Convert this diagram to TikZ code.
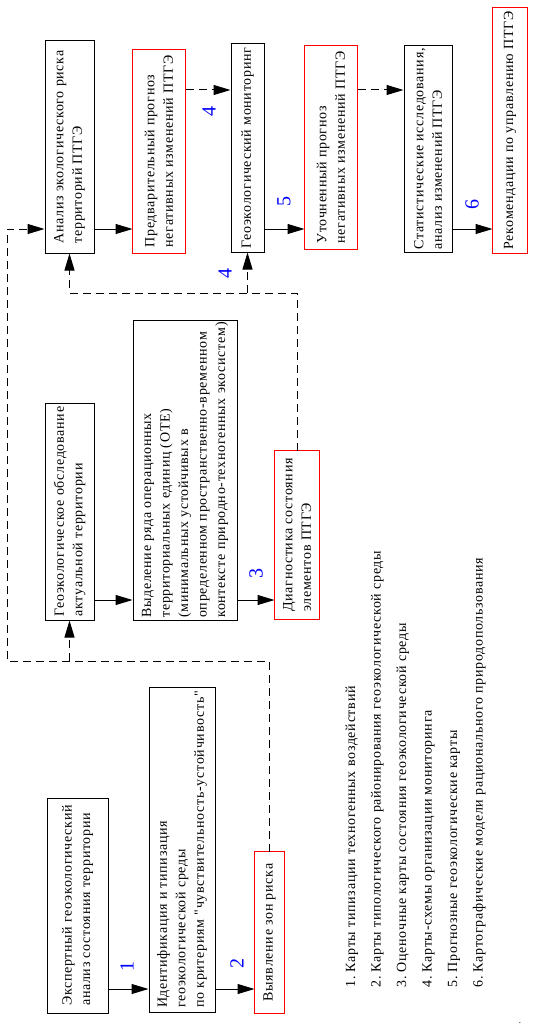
\documentclass[tikz,border=0pt]{standalone}
\usepackage{fontspec}
\setmainfont{Liberation Serif}
\newfontfamily\boxfont[LetterSpace=5]{Liberation Serif}
\usetikzlibrary{arrows.meta}
\definecolor{framered}{RGB}{255,0,0}

\begin{document}
\begin{tikzpicture}[x=1pt, y=-1pt, line width=1pt,
                    box/.style={draw, rotate=90, align=left, inner sep=0pt,
                                font=\boxfont\fontsize{14}{18.5}\selectfont},
                    red box/.style={box, draw=none},
                    red frame/.style={draw=framered, line width=1.1pt},
                    num/.style={rotate=90, text=blue, font=\fontsize{20}{20}\selectfont},
                    arr/.style={-{Triangle[length=17pt,width=10pt]}},
                    dash line/.style={dash pattern=on 8pt off 5pt}]

    \useasboundingbox (0,0) rectangle (537,1027);

    \node[box,     minimum width=212pt, minimum height=49pt]  (A) at (69.5,147)   {Анализ экологического риска\\территорий ПТГЭ};
    \node[red box, minimum width=203pt, minimum height=52pt]  (B) at (159,151.5)  {Предварительный прогноз\\негативных изменений ПТГЭ};
    \node[box,     minimum width=208pt, minimum height=33pt]  (C) at (247.5,148)  {Геоэкологический мониторинг};
    \node[red box, minimum width=203pt, minimum height=52pt]  (D) at (331,147.5)  {Уточненный прогноз\\негативных изменений ПТГЭ};
    \node[box,     minimum width=206pt, minimum height=48pt]  (E) at (428,149)    {Статистические исследования,\\анализ изменений ПТГЭ};
    \node[red box, minimum width=245pt, minimum height=34pt]  (F) at (510,130.5)  {Рекомендации по управлению ПТГЭ};
    \node[box,     minimum width=217pt, minimum height=49pt]  (G) at (69.5,511.5) {Геоэкологическое обследование\\актуальной территории};
    \node[box,     minimum width=300pt, minimum height=104pt] (H) at (185,470)    {Выделение ряда операционных\\территориальных единиц (ОТЕ)\\(минимальных устойчивых в\\определенном пространственно-временном\\контексте природно-техногенных экосистем)};
    \node[red box, minimum width=168pt, minimum height=44pt]  (I) at (297,535)    {Диагностика состояния\\элементов ПТГЭ};
    \node[box,     minimum width=215pt, minimum height=61pt]  (J) at (77.5,905.5) {Экспертный геоэкологический\\анализ состояния территории};
    \node[box,     minimum width=325pt, minimum height=66pt]  (K) at (182,849.5)  {Идентификация и типизация\\геоэкологической среды\\по критериям "чувствительность-устойчивость"};
    \node[red box, minimum width=161pt, minimum height=29pt]  (L) at (269.5,932.5) {Выявление зон риска};

    % red frames
    \foreach \n in {B,D,F,I,L}
      \draw[red frame] (\n.north west) rectangle (\n.south east);

    \node[num] (n1)  at (127,966) {1};
    \node[num] (n2)  at (237,963) {2};
    \node[num] (n3)  at (256,573) {3};
    \node[num] (n4a) at (209,112) {4};
    \node[num] (n4b) at (225,273) {4};
    \node[num] (n5)  at (284,202) {5};
    \node[num] (n6)  at (472,204) {6};

    \node[rotate=90, anchor=north west, align=left, inner sep=0pt,
          font=\boxfont\fontsize{14}{25.5}\selectfont] (legend) at (345,988)
      {1.\ Карты типизации техногенных воздействий\\
       2.\ Карты типологического районирования геоэкологической среды\\
       3.\ Оценочные карты состояния геоэкологической среды\\
       4.\ Карты-схемы организации мониторинга\\
       5.\ Прогнозные геоэкологические карты\\
       6.\ Картографические модели рационального природопользования};
    \node[inner sep=0pt, font=\small] (dot) at (520,1023) {.};

    % main chain
    \draw[arr] (A.south |- 0,229) -- (B.north |- 0,229);
    \draw[arr, dash line] (B.south |- 0,90) -- (C.north |- 0,90);
    \draw[arr] (C.south |- 0,229) -- (D.north |- 0,229);
    \draw[arr, dash line] (D.south |- 0,90) -- (E.north |- 0,90);
    \draw[arr] (E.south |- 0,229) -- (F.north |- 0,229);
    \draw[arr] (G.south |- 0,600) -- (H.north |- 0,600);
    \draw[arr] (H.south |- 0,600) -- (I.north |- 0,600);
    \draw[arr] (J.south |- 0,989) -- (K.north |- 0,989);
    \draw[arr] (K.south |- 0,989) -- (L.north |- 0,989);

    % feedback
    \draw[arr, dash line] (L.east) -- (L.east |- 0,661) -| (7,229) -- (A.north |- 0,229);
    \draw[arr, dash line] (G.west |- 0,661) -- (G.west);
    \draw[arr, dash line] (I.east) -- (I.east |- 0,293) -| (A.west);
    \draw[arr, dash line] (C.west |- 0,293) -- (C.west);
\end{tikzpicture}
\end{document}
